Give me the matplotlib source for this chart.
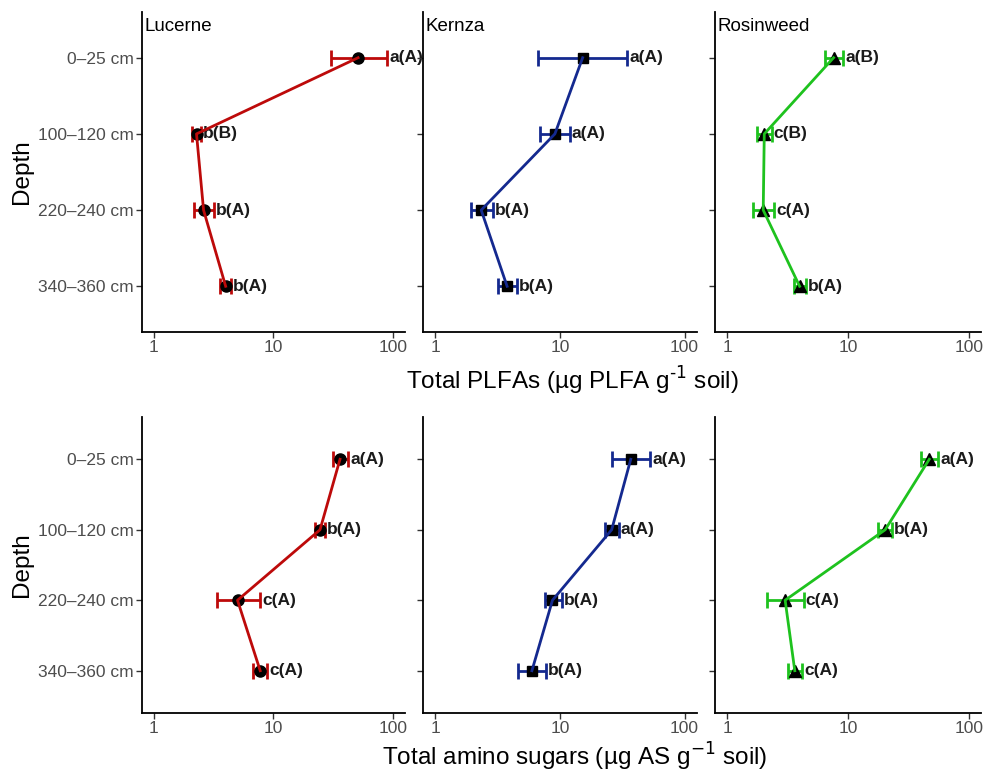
import matplotlib
matplotlib.use("Agg")
import matplotlib.pyplot as plt

plt.rcParams['font.family'] = ['Liberation Sans', 'DejaVu Sans']

# Data
depths = ["0\u201325 cm", "100\u2013120 cm", "220\u2013240 cm", "340\u2013360 cm"]
crops = ["Lucerne", "Kernza", "Rosinweed"]
colours = ["#BD0A0A", "#14298F", "#1EC21E"]
markers = ["o", "s", "^"]

# PLFA means, lower and upper error bar ends
plfa_mean = [[51, 2.27, 2.6, 3.98],
             [15.2, 9.1, 2.33, 3.76],
             [7.6, 2.03, 1.99, 3.98]]
plfa_lo = [[30, 2.1, 2.16, 3.55],
           [6.7, 6.9, 1.92, 3.18],
           [6.4, 1.77, 1.63, 3.56]]
plfa_hi = [[89, 2.47, 3.16, 4.4],
           [34.5, 12.0, 2.9, 4.53],
           [9.1, 2.33, 2.44, 4.5]]
plfa_lab = [["a(A)", "b(B)", "b(A)", "b(A)"],
            ["a(A)", "a(A)", "b(A)", "b(A)"],
            ["a(B)", "c(B)", "c(A)", "b(A)"]]

# amino sugar means, lower and upper error bar ends
as_mean = [[36, 24.5, 5.0, 7.74],
           [37, 26, 8.7, 5.95],
           [47, 20.3, 3.02, 3.63]]
as_lo = [[31.6, 22.2, 3.37, 6.8],
         [26, 22.8, 7.6, 4.6],
         [40, 17.7, 2.15, 3.21]]
as_hi = [[42, 27, 7.74, 8.8],
         [53, 29.5, 10.3, 7.7],
         [56, 22.9, 4.3, 4.15]]
as_lab = [["a(A)", "b(A)", "c(A)", "c(A)"],
          ["a(A)", "a(A)", "b(A)", "b(A)"],
          ["a(A)", "b(A)", "c(A)", "c(A)"]]

W, H = 989, 772
fig = plt.figure(figsize=(W / 100, H / 100), dpi=100)

# panel edges in pixels; last panel a bit narrower so "100" is not cut
col_x = [(142, 405), (423, 697), (715, 981)]
row_y = [(12, 332), (417, 713)]

rows = [(plfa_mean, plfa_lo, plfa_hi, plfa_lab),
        (as_mean, as_lo, as_hi, as_lab)]

ypos = [1, 2, 3, 4]
for r, (mean, lo, hi, lab) in enumerate(rows):
    y0, y1 = row_y[r]
    for c in range(3):
        x0, x1 = col_x[c]
        ax = fig.add_axes([x0 / W, 1 - y1 / H, (x1 - x0) / W, (y1 - y0) / H])
        m = mean[c]
        xerr = [[m[i] - lo[c][i] for i in range(4)], [hi[c][i] - m[i] for i in range(4)]]
        ax.errorbar(m, ypos, xerr=xerr, fmt='none', ecolor=colours[c],
                    elinewidth=2, capsize=5.5, capthick=2, zorder=2)
        ax.plot(m, ypos, linestyle='none', marker=markers[c], color='black',
                markersize=8 if c != 1 else 7.5, zorder=3)
        ax.plot(m, ypos, color=colours[c], linewidth=2, zorder=4)
        for i in range(4):
            ax.annotate(lab[c][i], (hi[c][i], ypos[i]), xytext=(1.5, 0),
                        textcoords='offset points', ha='left', va='center',
                        fontsize=12.5, fontweight='bold', color='#1a1a1a')
        ax.set_xscale('log')
        ax.set_xlim(10 ** -0.1, 10 ** 2.1)
        ax.set_ylim(4.6, 0.4)
        ax.set_xticks([1, 10, 100])
        ax.set_xticklabels(["1", "10", "100"])
        ax.minorticks_off()
        ax.set_yticks(ypos)
        if c == 0:
            ax.set_yticklabels(depths)
        else:
            ax.set_yticklabels([])
        ax.tick_params(axis='both', labelsize=12.5, labelcolor='#4D4D4D',
                       color='#333333', length=4, width=1, pad=2)
        for s in ['top', 'right']:
            ax.spines[s].set_visible(False)
        for s in ['left', 'bottom']:
            ax.spines[s].set_linewidth(1.3)
        if r == 0:
            ax.text(0.01, 0.98, crops[c], transform=ax.transAxes,
                    ha='left', va='top', fontsize=13.5)

fig.text(572 / W, 1 - 381 / H, "Total PLFAs (\u00b5g PLFA g$^{\\text{-}1}$ soil)",
         ha='center', va='center', fontsize=17.5)
fig.text(575 / W, 1 - 757 / H, "Total amino sugars (\u00b5g AS g$^{-1}$ soil)",
         ha='center', va='center', fontsize=17.5)
fig.text(22 / W, 1 - 172 / H, "Depth", rotation=90, ha='center', va='center', fontsize=17.5)
fig.text(22 / W, 1 - 565 / H, "Depth", rotation=90, ha='center', va='center', fontsize=17.5)

fig.savefig("out.png", dpi=100)
